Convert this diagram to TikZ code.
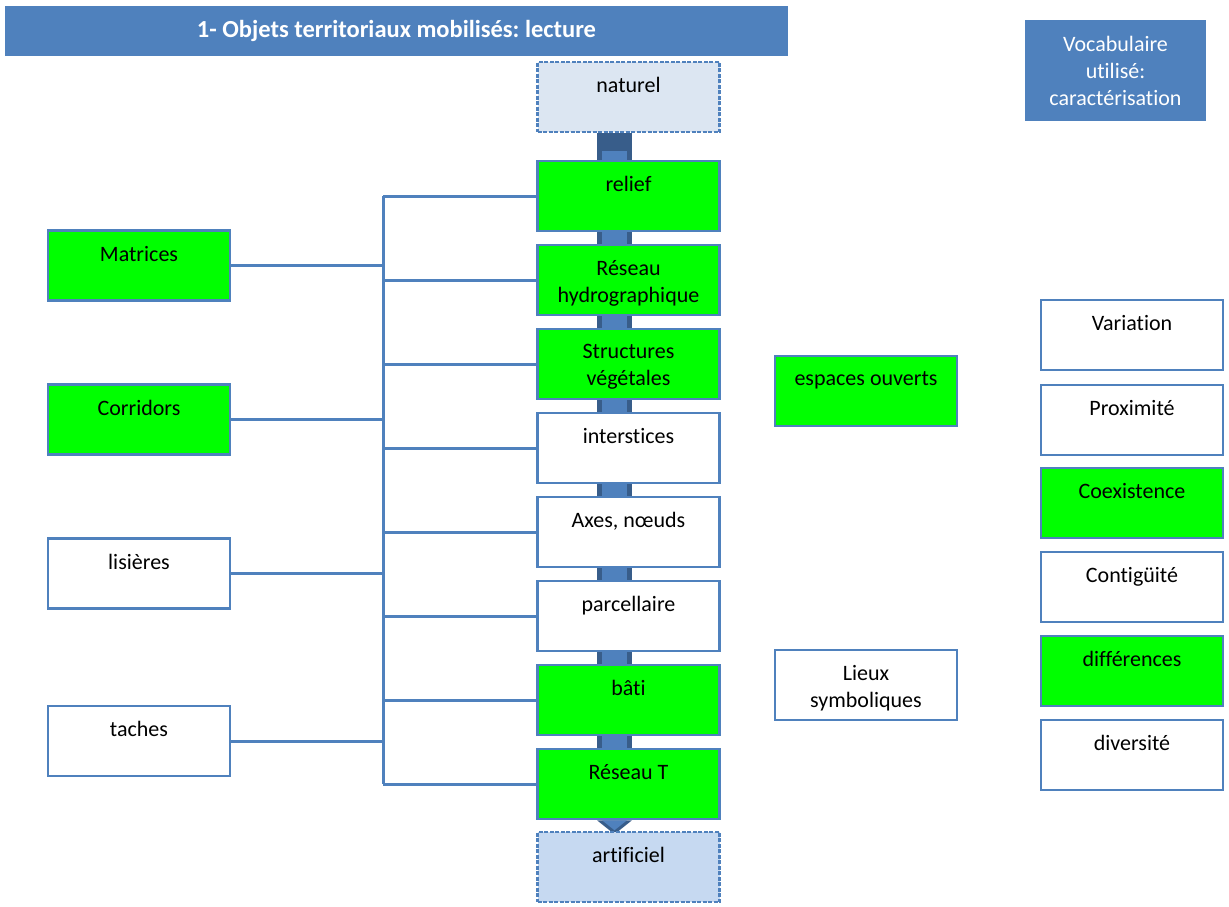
\documentclass[tikz,border=0pt]{standalone}
\usepackage{fontspec}
\setmainfont{Carlito}[Ligatures=NoCommon]
\frenchspacing
\usetikzlibrary{backgrounds}
\definecolor{bblue}{HTML}{4F81BD}
\definecolor{dblue}{HTML}{385D8A}
\definecolor{lgreen}{HTML}{00FF00}
\definecolor{natfill}{HTML}{DCE6F2}
\definecolor{artfill}{HTML}{C6D9F1}
\newcommand{\bt}[1]{\parbox[c][70pt][t]{180pt}{\centering\vspace*{15.5pt}#1\par}}
\tikzset{
  box/.style={draw=bblue, line width=2.5pt, minimum width=182pt, minimum height=70pt, inner sep=0pt, fill=white},
  gbox/.style={box, fill=lgreen},
  dbox/.style={box, dash pattern=on 4pt off 1.5pt},
  conn/.style={draw=bblue, line width=3pt},
}
\begin{document}
\begin{tikzpicture}[x=1pt,y=-1pt,font=\fontsize{22}{27}\selectfont]
\useasboundingbox (0,0) rectangle (1229,906);
% title and header
\node[fill=bblue, minimum width=783pt, minimum height=50pt, inner sep=0pt, text=white, font=\fontsize{24.5}{29}\selectfont\bfseries] (title) at (396.5,31) {\raisebox{-2pt}{1- Objets territoriaux mobilisés: lecture}};
\node[fill=bblue, minimum width=181pt, minimum height=101pt, inner sep=0pt, text=white, align=center] (vocab) at (1115.5,70.5) {Vocabulaire\\utilisé:\\caractérisation};
% middle column
\node[dbox, fill=natfill] (naturel) at (628.5,97) {\bt{naturel}};
\node[gbox] (relief) at (628.5,196) {\bt{relief}};
\node[gbox] (hydro) at (628.5,280) {\bt{Réseau\\hydrographique}};
\node[gbox] (veget) at (628.5,364) {\bt{Structures\\végétales}};
\node[box] (inter) at (628.5,448) {\bt{interstices}};
\node[box] (axes) at (628.5,532) {\bt{Axes, nœuds}};
\node[box] (parc) at (628.5,616) {\bt{parcellaire}};
\node[gbox] (bati) at (628.5,700) {\bt{bâti}};
\node[gbox] (reseauT) at (628.5,784) {\bt{Réseau T}};
\node[dbox, fill=artfill] (artif) at (628.5,867) {\bt{artificiel}};
% central arrow
\begin{scope}[on background layer]
\fill[dblue] ([xshift=-31.5pt]naturel.south) rectangle ([xshift=3.5pt]reseauT.south);
\fill[bblue] ([xshift=-26.5pt,yshift=-18pt]naturel.south) rectangle ([xshift=-1.5pt]reseauT.south);
\fill[dblue] ([xshift=-31.5pt]reseauT.south) -- ([xshift=3.5pt]reseauT.south) -- ([xshift=-14pt,yshift=-14pt]reseauT.south) -- cycle;
\fill[bblue] ([xshift=-26.5pt]reseauT.south) -- ([xshift=-1.5pt]reseauT.south) -- ([xshift=-14pt,yshift=-10pt]reseauT.south) -- cycle;
\end{scope}
% left column
\node[gbox] (matrices) at (139,265.5) {\bt{Matrices}};
\node[gbox] (corridors) at (139,419.5) {\bt{Corridors}};
\node[box] (lisieres) at (139,573.5) {\bt{lisières}};
\node[box] (taches) at (139,741) {\bt{taches}};
% right column
\node[gbox] (espaces) at (866,391) {\bt{espaces ouverts}};
\node[box] (lieux) at (866,685) {\bt{Lieux\\symboliques}};
% vocabulary
\node[box] (variation) at (1132,335) {\bt{Variation}};
\node[box] (proximite) at (1132,420) {\bt{Proximité}};
\node[gbox] (coexist) at (1132,503) {\bt{Coexistence}};
\node[box] (contig) at (1132,587) {\bt{Contigüité}};
\node[gbox] (diff) at (1132,671) {\bt{différences}};
\node[box] (divers) at (1132,755) {\bt{diversité}};
% tree connectors
\coordinate (tt) at (383,196);
\coordinate (tb) at (383,784);
\draw[conn] (tt) -- (tb);
\foreach \m in {relief,hydro,veget,inter,axes,parc,bati,reseauT}
  \draw[conn] (\m.west) -- (\m.west -| tt);
\foreach \l in {matrices,corridors,lisieres,taches}
  \draw[conn] (\l.east) -- (\l.east -| tt);
\end{tikzpicture}
\end{document}
